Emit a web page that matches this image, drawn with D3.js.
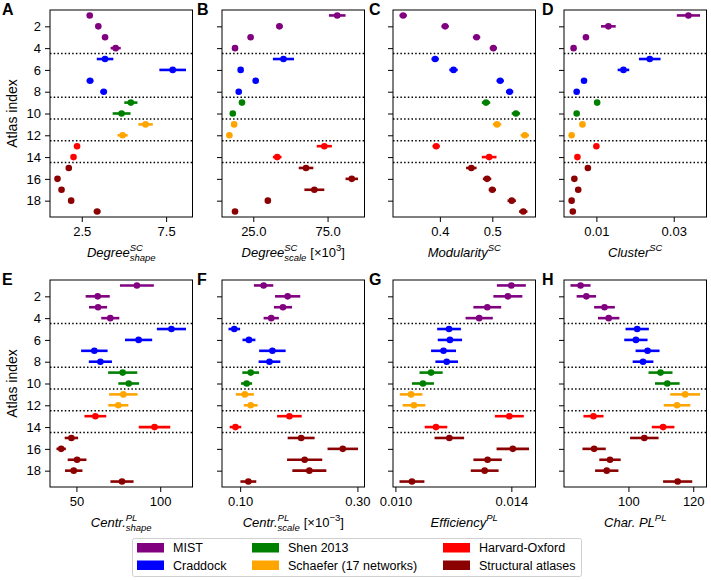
<!DOCTYPE html>
<html>
<head>
<meta charset="utf-8">
<script src="https://cdn.jsdelivr.net/npm/d3@7"></script>
<style>
  body { margin: 0; background: #fff; }
  text { font-family: "Liberation Sans", Arial, sans-serif; fill: #000; }
</style>
</head>
<body>
<svg id="chart" width="711" height="580"></svg>
<script>
// atlas groups (rows of every panel, index 1..19)
var atlasGroups = ["MIST", "Craddock", "Shen 2013", "Schaefer (17 networks)", "Harvard-Oxford", "Structural atlases"];
var groupSizes = [4, 4, 2, 2, 2, 5];
var groupColors = ["#800080", "#0000ff", "#008000", "#ffa500", "#ff0000", "#8b0000"];
var atlasTicks = [2, 4, 6, 8, 10, 12, 14, 16, 18];

// values (mean and half width of the bar)
var degreeShape    = [2.97, 3.48, 3.88, 4.51, 3.88, 7.89, 2.99, 3.80, 5.41, 4.86, 6.28, 4.92, 2.22, 2.01, 1.73, 1.06, 1.30, 1.87, 3.41];
var degreeShapeErr = [0.08, 0.12, 0.1, 0.3, 0.49, 0.79, 0.2, 0.2, 0.39, 0.53, 0.43, 0.3, 0.06, 0.06, 0.06, 0.06, 0.06, 0.06, 0.2];
var degreeScale    = [81.5, 42.6, 23.2, 12.7, 45.3, 16.5, 26.6, 15.2, 17.4, 11.2, 12.1, 8.9, 72.8, 41.1, 60.5, 91.3, 66.1, 34.8, 12.7];
var degreeScaleErr = [5.6, 2.2, 0.8, 0.6, 7.1, 0.8, 1.8, 0.8, 0.8, 0.6, 0.6, 0.6, 5.1, 2.9, 4.9, 4.2, 6.7, 0.8, 0.6];
var modularity     = [0.330, 0.410, 0.470, 0.502, 0.391, 0.426, 0.515, 0.533, 0.488, 0.545, 0.509, 0.562, 0.393, 0.494, 0.460, 0.490, 0.500, 0.537, 0.559];
var modularityErr  = [0.007, 0.007, 0.007, 0.007, 0.007, 0.008, 0.007, 0.007, 0.008, 0.008, 0.008, 0.008, 0.007, 0.014, 0.01, 0.008, 0.007, 0.008, 0.008];
var cluster        = [0.0338, 0.0131, 0.0073, 0.0041, 0.0238, 0.0170, 0.0068, 0.0049, 0.0102, 0.0049, 0.0064, 0.0036, 0.0100, 0.0051, 0.0078, 0.0043, 0.0053, 0.0036, 0.0039];
var clusterErr     = [0.003, 0.0019, 0.0005, 0.0003, 0.0028, 0.0015, 0.0004, 0.0003, 0.0004, 0.0003, 0.0003, 0.0003, 0.0004, 0.0003, 0.0004, 0.0003, 0.0003, 0.0003, 0.0003];
var centrShape     = [86.1, 62.7, 62.9, 70.2, 106.7, 87.1, 60.7, 64.3, 77.6, 81.2, 78.0, 75.0, 61.3, 96.6, 47.0, 40.9, 50.4, 48.4, 77.2];
var centrShapeErr  = [10.1, 7.2, 5.4, 5.4, 8.7, 8.1, 7.9, 6.9, 8.7, 6.2, 8.5, 6.0, 6.5, 9.4, 4.0, 2.8, 5.6, 5.2, 6.9];
var centrScale     = [0.140, 0.181, 0.173, 0.153, 0.090, 0.115, 0.155, 0.150, 0.118, 0.111, 0.108, 0.118, 0.184, 0.092, 0.204, 0.275, 0.210, 0.218, 0.114];
var centrScaleErr  = [0.0165, 0.0215, 0.0154, 0.013, 0.0099, 0.011, 0.0226, 0.0185, 0.0143, 0.0094, 0.0154, 0.0118, 0.021, 0.0099, 0.023, 0.026, 0.030, 0.029, 0.0135];
var efficiency     = [0.01400, 0.01388, 0.01317, 0.01289, 0.01185, 0.01188, 0.01166, 0.01177, 0.01123, 0.01095, 0.01054, 0.01064, 0.01393, 0.01140, 0.01186, 0.01405, 0.01318, 0.01308, 0.01057];
var efficiencyErr  = [0.0005, 0.0005, 0.00048, 0.00047, 0.00041, 0.00042, 0.00043, 0.00039, 0.0004, 0.00038, 0.00039, 0.00039, 0.0005, 0.00039, 0.00051, 0.00056, 0.00049, 0.00048, 0.00043];
var charPath       = [85.2, 87.0, 92.6, 93.9, 102.7, 102.3, 105.9, 104.5, 109.9, 112.0, 117.5, 115.0, 89.2, 110.7, 104.9, 89.4, 94.3, 93.3, 115.2];
var charPathErr    = [3.1, 3.0, 3.2, 3.3, 3.6, 3.6, 3.7, 3.2, 3.7, 3.8, 4.6, 4.1, 3.1, 3.5, 4.4, 3.6, 3.3, 3.6, 4.5];

// x ticks of each panel
var ticksA = [2.5, 7.5], ticksB = [25, 75], ticksC = [0.4, 0.5], ticksD = [0.01, 0.03];
var ticksE = [50, 100], ticksF = [0.10, 0.30], ticksG = [0.010, 0.014], ticksH = [100, 120];

var svg = d3.select("#chart");
var colLeft = [50, 222, 393, 564];
var rowTop = [10, 280];
var letterX = [2, 197, 369, 542];
var pw = 142.5, ph = 207;

// group of each atlas index
var groupOf = [];
groupSizes.forEach(function(n, g) { for (var k = 0; k < n; k++) groupOf.push(g); });
var bounds = d3.cumsum(groupSizes).slice(0, -1).map(function(c) { return c + 0.5; });

var panels = [
  {letter: "A", v: degreeShape, e: degreeShapeErr, ticks: ticksA, fmt: ".1f",
   label: [["Degree", "i"], ["SC", "sup"], ["shape", "sub"]]},
  {letter: "B", v: degreeScale, e: degreeScaleErr, ticks: ticksB, fmt: ".1f",
   label: [["Degree", "i"], ["SC", "sup"], ["scale", "sub"], ["[×10", "n"], ["3", "supn"], ["]", "n"]]},
  {letter: "C", v: modularity, e: modularityErr, ticks: ticksC, fmt: ".1f",
   label: [["Modularity", "i"], ["SC", "sup"]]},
  {letter: "D", v: cluster, e: clusterErr, ticks: ticksD, fmt: ".2f",
   label: [["Cluster", "i"], ["SC", "sup"]]},
  {letter: "E", v: centrShape, e: centrShapeErr, ticks: ticksE, fmt: "d",
   label: [["Centr.", "i"], ["PL", "sup"], ["shape", "sub"]]},
  {letter: "F", v: centrScale, e: centrScaleErr, ticks: ticksF, fmt: ".2f",
   label: [["Centr.", "i"], ["PL", "sup"], ["scale", "sub"], ["[×10", "n"], ["−3", "supn"], ["]", "n"]]},
  {letter: "G", v: efficiency, e: efficiencyErr, ticks: ticksG, fmt: ".3f",
   label: [["Efficiency", "i"], ["PL", "sup"]]},
  {letter: "H", v: charPath, e: charPathErr, ticks: ticksH, fmt: "d",
   label: [["Char. PL", "i"], ["PL", "sup"]]}
];

function drawLabel(parent, parts, cx, y) {
  var lab = parent.append("g");
  var x = 0, prevKind = null, prevStart = 0, prevW = 0;
  parts.forEach(function(p) {
    var kind = p[1];
    var small = (kind === "sup" || kind === "supn" || kind === "sub");
    var t = lab.append("text").text(p[0])
      .style("font-style", (kind === "n" || kind === "supn") ? "normal" : "italic")
      .style("font-size", small ? "9.5px" : "13px")
      .attr("y", kind === "sub" ? 4 : (small ? -6 : 0));
    var w = t.node().getComputedTextLength();
    if (kind === "n" && p[0].charAt(0) === "[") x += 4;
    if (kind === "sub" && prevKind === "sup") {
      t.attr("x", prevStart);
      x = prevStart + Math.max(prevW, w);
    } else {
      t.attr("x", x);
      prevStart = x; prevW = w;
      x += w;
    }
    prevKind = kind;
  });
  lab.attr("transform", "translate(" + (cx - x / 2) + "," + y + ")");
}

panels.forEach(function(p, k) {
  var col = k % 4, row = Math.floor(k / 4);
  var g = svg.append("g")
    .attr("transform", "translate(" + colLeft[col] + "," + rowTop[row] + ")");

  var lo = d3.min(p.v, function(d, i) { return d - p.e[i]; });
  var hi = d3.max(p.v, function(d, i) { return d + p.e[i]; });
  var pad = (hi - lo) * 0.05;
  var x = d3.scaleLinear().domain([lo - pad, hi + pad]).range([0, pw]);
  var y = d3.scaleLinear().domain([0.5, 19.5]).range([0, ph]);

  // group separators
  g.selectAll("line.sep")
    .data(bounds)
    .enter()
    .append("line")
    .attr("class", "sep")
    .attr("x1", 0).attr("x2", pw)
    .attr("y1", function(d) { return y(d); })
    .attr("y2", function(d) { return y(d); })
    .style("stroke", "#000")
    .style("stroke-width", 1.5)
    .style("stroke-dasharray", "1.5,2.2");

  // error bars
  g.selectAll("line.err")
    .data(p.v)
    .enter()
    .append("line")
    .attr("class", "err")
    .attr("x1", function(d, i) { return x(d - p.e[i]); })
    .attr("x2", function(d, i) { return x(d + p.e[i]); })
    .attr("y1", function(d, i) { return y(i + 1); })
    .attr("y2", function(d, i) { return y(i + 1); })
    .style("stroke", function(d, i) { return groupColors[groupOf[i]]; })
    .style("stroke-width", 2.6);

  g.selectAll("circle")
    .data(p.v)
    .enter()
    .append("circle")
    .attr("cx", function(d) { return x(d); })
    .attr("cy", function(d, i) { return y(i + 1); })
    .attr("r", 3.3)
    .style("fill", function(d, i) { return groupColors[groupOf[i]]; });

  // axes
  var yAxis = g.append("g")
    .call(d3.axisLeft(y).tickValues(atlasTicks).tickSize(5).tickPadding(4)
      .tickFormat(col === 0 ? d3.format("d") : function() { return ""; }));
  var xAxis = g.append("g")
    .attr("transform", "translate(0," + ph + ")")
    .call(d3.axisBottom(x).tickValues(p.ticks).tickSize(5).tickPadding(5)
      .tickFormat(d3.format(p.fmt)));
  [yAxis, xAxis].forEach(function(a) {
    a.select(".domain").remove();
    a.selectAll("text").style("font-size", "13px")
      .style("font-family", "'Liberation Sans', Arial, sans-serif");
    a.selectAll(".tick line").style("stroke", "#000").style("stroke-width", 1);
  });

  g.append("rect")
    .attr("width", pw).attr("height", ph)
    .style("fill", "none").style("stroke", "#000").style("stroke-width", 1);

  drawLabel(g, p.label, pw / 2, ph + 40);

  svg.append("text")
    .attr("x", letterX[col])
    .attr("y", rowTop[row] + 5)
    .text(p.letter)
    .style("font-size", "16px")
    .style("font-weight", "bold");

  if (col === 0) {
    svg.append("text")
      .attr("transform", "translate(17," + (rowTop[row] + ph / 2) + ") rotate(-90)")
      .attr("text-anchor", "middle")
      .text("Atlas index")
      .style("font-size", "14px");
  }
});

// legend
var legend = svg.append("g");
legend.append("rect")
  .attr("x", 132.5).attr("y", 538.5).attr("width", 449).attr("height", 38)
  .attr("rx", 2)
  .style("fill", "#fff").style("stroke", "#d0d0d0").style("stroke-width", 1);
var legX = [137, 252, 443], legY = [543, 560.5];
var item = legend.selectAll("g.item")
  .data(atlasGroups)
  .enter()
  .append("g")
  .attr("class", "item")
  .attr("transform", function(d, i) {
    return "translate(" + legX[Math.floor(i / 2)] + "," + legY[i % 2] + ")";
  });
item.append("rect")
  .attr("width", 27).attr("height", 9.5)
  .style("fill", function(d, i) { return groupColors[i]; });
item.append("text")
  .attr("x", 36).attr("y", 4.75).attr("dy", "0.35em")
  .text(function(d) { return d; })
  .style("font-size", "12.5px");
</script>
</body>
</html>
